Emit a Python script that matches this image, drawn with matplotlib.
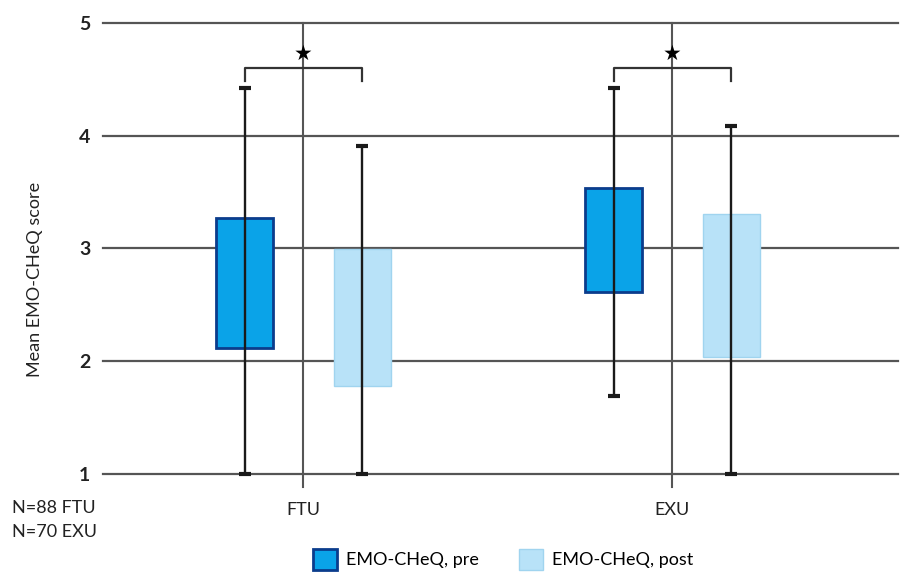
import matplotlib
import matplotlib.pyplot as plt
from matplotlib.patches import Patch

matplotlib.use('AGG')

# Datos
groups = ["FTU", "EXU"]
series = ["EMO-CHeQ, pre", "EMO-CHeQ, post"]
box_low = [[2.12, 1.78], [2.61, 2.04]]
box_high = [[3.27, 3.00], [3.54, 3.31]]
whisk_low = [[1.00, 1.00], [1.69, 1.00]]
whisk_high = [[4.42, 3.91], [4.42, 4.09]]
y_ticks = [1, 2, 3, 4, 5]
sample_notes = ["N=88 FTU", "N=70 EXU"]
sig_mark = "★"

# Estilo
FONT = ['Lato', 'DejaVu Sans']
plt.rcParams['font.family'] = FONT
TXT_C = '#222222'
GRID_C = '#555555'
FILLS = ['#0aa3e8', '#b8e2f8']
EDGES = ['#0b3c8c', '#a0d4ef']
EDGE_W = [2.0, 1.0]
OFFSETS = [-0.158, 0.160]
BAR_W = 0.154
FS = 13

fig = plt.figure(figsize=(9.07, 5.72), dpi=100)
ax = fig.add_axes([103 / 907, 85 / 572, 795 / 907, 464 / 572])
ax.set_xlim(-0.542, 1.612)
ax.set_ylim(1 - 13 / 112.75, 5)

for t in y_ticks:
    ax.axhline(t, color=GRID_C, lw=1.6, zorder=1, clip_on=False)
for i in range(len(groups)):
    ax.axvline(i, color=GRID_C, lw=1.5, zorder=1, clip_on=False)

for i, g in enumerate(groups):
    for j in range(len(series)):
        x = i + OFFSETS[j]
        ax.bar(x, box_high[i][j] - box_low[i][j], bottom=box_low[i][j], width=BAR_W,
               color=FILLS[j], edgecolor=EDGES[j], linewidth=EDGE_W[j], zorder=2)
        ax.vlines(x, whisk_low[i][j], whisk_high[i][j], color='#1a1a1a', lw=1.7, zorder=3)
        ax.plot([x, x], [whisk_low[i][j], whisk_high[i][j]], ls='none', marker='_',
                ms=9, mew=3.0, color='#1a1a1a', zorder=3)
    # corchete de significancia
    xa, xb = i + OFFSETS[0], i + OFFSETS[1]
    ax.plot([xa, xa, xb, xb], [4.49, 4.60, 4.60, 4.49], color='#333333', lw=1.6, zorder=3)
    ax.text(i, 4.73, sig_mark, ha='center', va='center', fontsize=15,
            family=['DejaVu Sans'], zorder=4)

ax.set_yticks(y_ticks)
ax.set_yticklabels([str(t) for t in y_ticks], fontsize=FS + 1, fontweight='bold', color=TXT_C)
ax.set_xticks(range(len(groups)))
ax.set_xticklabels(groups, fontsize=FS, color=TXT_C)
ax.tick_params(axis='both', length=0)
ax.tick_params(axis='y', pad=9)
ax.tick_params(axis='x', pad=11)
for s in ax.spines.values():
    s.set_visible(False)

fig.text(35 / 907, 1 - 279 / 572, "Mean EMO-CHeQ score", rotation=90, ha='center',
         va='center', fontsize=FS, color=TXT_C)
fig.text(12 / 907, 1 - 508 / 572, sample_notes[0], ha='left', va='center', fontsize=FS, color=TXT_C)
fig.text(12 / 907, 1 - 532 / 572, sample_notes[1], ha='left', va='center', fontsize=FS, color=TXT_C)

handles = [Patch(facecolor=FILLS[j], edgecolor=EDGES[j], linewidth=EDGE_W[j], label=series[j])
           for j in range(len(series))]
fig.legend(handles=handles, loc='lower center', bbox_to_anchor=(503 / 907, -0.025), ncol=2,
           frameon=False, fontsize=FS, handlelength=1.35, handleheight=1.45,
           columnspacing=2.2, handletextpad=0.5)

plt.savefig("out.png", dpi=100)
